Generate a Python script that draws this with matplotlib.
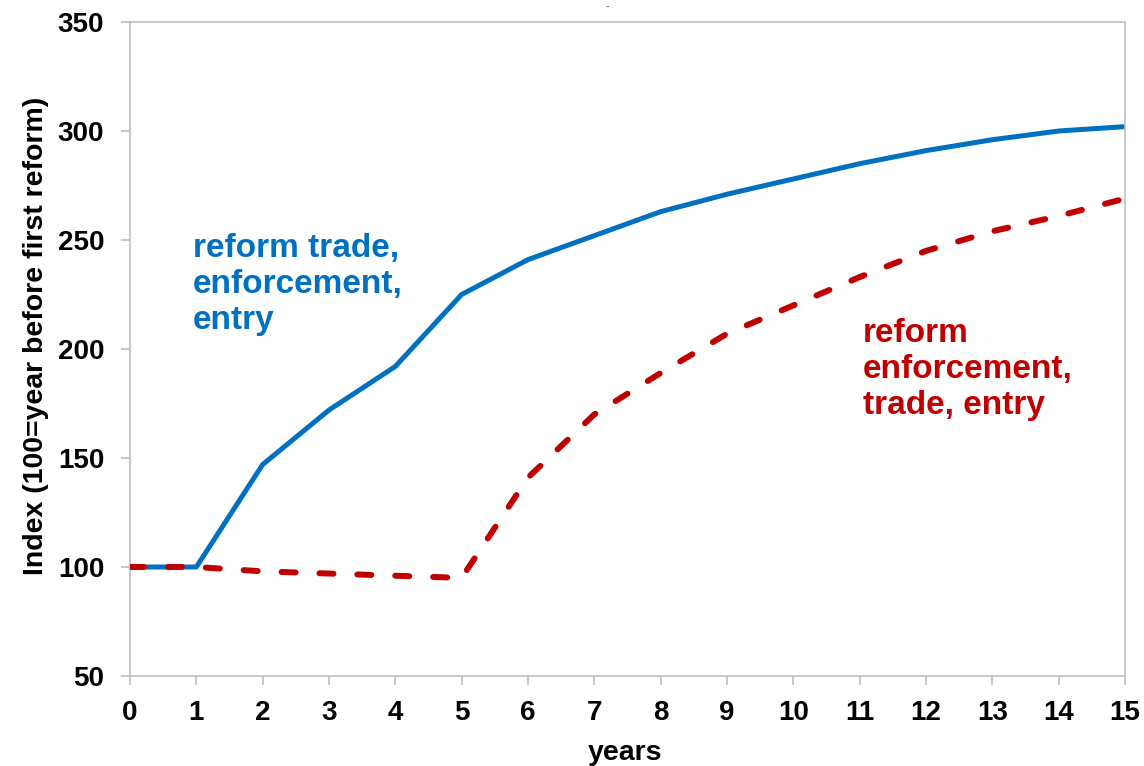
import matplotlib
matplotlib.use("Agg")
import matplotlib.pyplot as plt

years = list(range(16))
trade_first = [100, 100, 147, 172, 192, 225, 241, 252, 263, 271, 278, 285, 291, 296, 300, 302]
enforcement_first = [100, 100, 98, 97, 96, 95, 141, 170, 189, 207, 220, 233, 245, 254, 261, 269]
x_ticks = list(range(16))
y_ticks = [50, 100, 150, 200, 250, 300, 350]

blue = "#0070C0"
red = "#C00000"
grey = "#BFBFBF"

plt.rcParams["font.family"] = ["Liberation Sans", "DejaVu Sans"]
plt.rcParams["font.weight"] = "bold"

W, H = 1144, 766
fig = plt.figure(figsize=(W / 100, H / 100), dpi=100)
ax = fig.add_axes([130 / W, 90 / H, 995 / W, 654 / H])

ax.plot(years, enforcement_first, color=red, lw=4.3, dashes=(2.35, 4.0),
        solid_capstyle="round", dash_capstyle="round", zorder=3)
ax.plot(years, trade_first, color=blue, lw=3.6, solid_capstyle="round", zorder=2)

ax.set_xlim(0, 15)
ax.set_ylim(50, 350)
ax.set_xticks(x_ticks)
ax.set_yticks(y_ticks)
ax.tick_params(axis="both", direction="out", length=6.5, width=1.2, color=grey,
               labelsize=20)
ax.tick_params(axis="y", pad=12)
ax.tick_params(axis="x", pad=11)
for lab in ax.get_xticklabels() + ax.get_yticklabels():
    lab.set_fontweight("bold")
for sp in ax.spines.values():
    sp.set_color(grey)
    sp.set_linewidth(1.2)

fig.text(625 / W, 1 - 760 / H, "years", fontsize=20.5, fontweight="bold",
         ha="center", va="baseline")
fig.text(36 / W, 1 - 336 / H, "Index (100=year before first reform)", fontsize=20.5,
         fontweight="bold", rotation=90, ha="center", va="center")

ax.text(0.95, 253, "reform trade,\nenforcement,\nentry", color=blue, fontsize=24,
        fontweight="bold", ha="left", va="top", linespacing=1.2)
ax.text(11.05, 214, "reform\nenforcement,\ntrade, entry", color=red, fontsize=24,
        fontweight="bold", ha="left", va="top", linespacing=1.2)

fig.text(608 / W, 1 - 7 / H, "-", color="#808080", fontsize=8,
         ha="center", va="center")

fig.savefig("out.png", dpi=100)
